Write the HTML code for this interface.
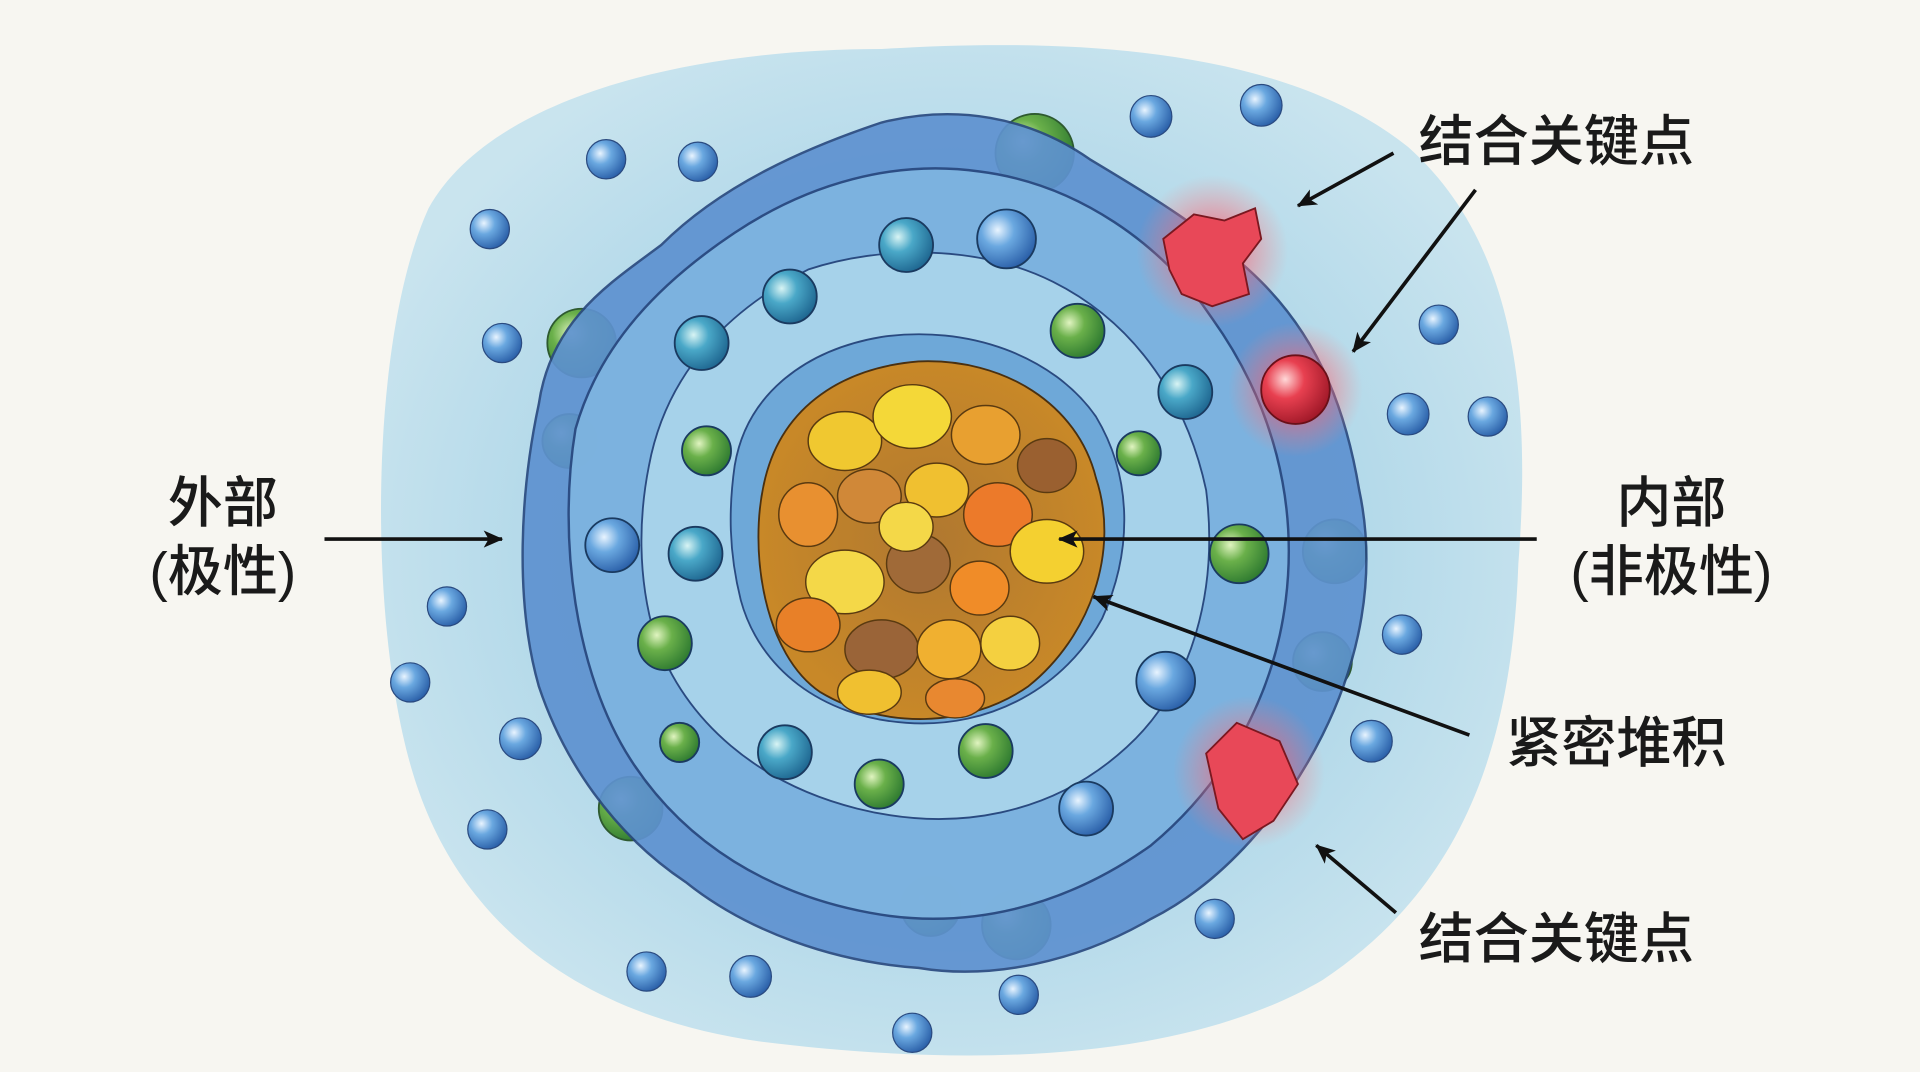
<!DOCTYPE html>
<html><head><meta charset="utf-8"><style>
html,body{margin:0;padding:0;background:#f7f6f1;}
svg{display:block}
text{font-family:"Liberation Sans","Noto Sans CJK SC",sans-serif;fill:#1a1a1a;font-weight:500;}
</style></head><body>
<svg width="1920" height="1072" viewBox="0 0 1568 875" preserveAspectRatio="none" xmlns="http://www.w3.org/2000/svg">
<defs>
<radialGradient id="bs" cx="35%" cy="35%" r="70%"><stop offset="0" stop-color="#e8f4ff"/><stop offset="0.4" stop-color="#6aa8e0"/><stop offset="1" stop-color="#2a5fa8"/></radialGradient>
<radialGradient id="ts" cx="35%" cy="35%" r="70%"><stop offset="0" stop-color="#d8f4f4"/><stop offset="0.4" stop-color="#4aa8c8"/><stop offset="1" stop-color="#1e6690"/></radialGradient>
<radialGradient id="gs" cx="35%" cy="35%" r="70%"><stop offset="0" stop-color="#e0f4c0"/><stop offset="0.4" stop-color="#6ab04a"/><stop offset="1" stop-color="#2e7a30"/></radialGradient>
<radialGradient id="rs" cx="35%" cy="35%" r="70%"><stop offset="0" stop-color="#ffd8d8"/><stop offset="0.4" stop-color="#e84050"/><stop offset="1" stop-color="#a01828"/></radialGradient>
<radialGradient id="glow"><stop offset="0.4" stop-color="#ff6070" stop-opacity="0.55"/><stop offset="1" stop-color="#ff8080" stop-opacity="0"/></radialGradient>
<radialGradient id="wash" cx="50%" cy="50%" r="55%"><stop offset="0.6" stop-color="#a8d4e8"/><stop offset="1" stop-color="#c4e2ee"/></radialGradient>
<radialGradient id="core"><stop offset="0" stop-color="#b07830"/><stop offset="1" stop-color="#c88828"/></radialGradient>
<marker id="ah" markerWidth="16" markerHeight="14" refX="15" refY="7" orient="auto" markerUnits="userSpaceOnUse"><path d="M0,0 L16,7 L0,14 L4,7 z" fill="#111"/></marker>
</defs>
<path d="M350,170 C400,80 560,40 720,40 C880,30 1050,40 1150,120 C1240,200 1250,330 1240,460 C1235,600 1200,720 1080,800 C960,870 780,870 620,850 C480,830 380,760 340,640 C300,520 300,280 350,170 Z" fill="url(#wash)" opacity="0.9"/>
<g fill="url(#gs)" stroke="#2e5a30" stroke-width="1.5">
<circle cx="475" cy="280" r="28"/><circle cx="845" cy="125" r="32"/><circle cx="515" cy="660" r="26"/><circle cx="830" cy="755" r="28"/><circle cx="1090" cy="450" r="26"/><circle cx="1080" cy="540" r="24"/><circle cx="465" cy="360" r="22"/><circle cx="760" cy="740" r="24"/>
</g>
<path d="M440,330 C450,260 500,230 540,200 C590,150 660,120 720,100 C780,85 840,95 890,130 C940,160 990,190 1030,230 C1080,280 1100,340 1110,400 C1125,470 1110,540 1080,600 C1050,660 1000,720 940,750 C880,785 810,800 750,790 C680,785 610,760 560,720 C500,680 460,620 440,560 C420,490 425,400 440,330 Z" fill="#5e92d0" stroke="#2a4a80" stroke-width="2" opacity="0.92"/>
<path d="M470,350 C490,280 540,230 600,190 C660,150 730,130 800,140 C880,150 950,200 990,260 C1040,330 1060,410 1050,490 C1040,570 1000,640 940,690 C870,740 790,760 710,745 C630,730 560,690 515,620 C470,550 455,440 470,350 Z" fill="#7eb4e0" stroke="#2a4a80" stroke-width="2" opacity="0.95"/>
<path d="M530,380 C545,300 600,250 660,220 C720,200 800,200 860,230 C930,265 970,330 985,400 C995,480 975,560 920,610 C860,665 780,680 700,660 C620,640 560,590 535,520 C520,470 522,420 530,380 Z" fill="#a6d2ea" stroke="#2a4a80" stroke-width="1.5"/>
<path d="M600,380 C610,320 660,285 720,275 C790,265 860,290 895,340 C925,390 925,450 900,505 C870,560 810,595 740,590 C670,585 620,545 605,490 C595,450 595,415 600,380 Z" fill="#6ea8d8" stroke="#2a4a80" stroke-width="1.5"/>
<path d="M625,390 C640,330 690,300 750,295 C820,292 880,330 895,390 C915,450 890,520 840,560 C790,595 720,595 670,565 C625,535 610,450 625,390 Z" fill="url(#core)" stroke="#4a3010" stroke-width="1.5"/>
<g stroke="#5a3a10" stroke-width="1.2">
<ellipse cx="690" cy="360" rx="30" ry="24" fill="#f0c830"/><ellipse cx="745" cy="340" rx="32" ry="26" fill="#f4d838"/><ellipse cx="805" cy="355" rx="28" ry="24" fill="#e8a030"/><ellipse cx="855" cy="380" rx="24" ry="22" fill="#9a6030"/>
<ellipse cx="660" cy="420" rx="24" ry="26" fill="#e89030"/><ellipse cx="710" cy="405" rx="26" ry="22" fill="#d08838"/><ellipse cx="765" cy="400" rx="26" ry="22" fill="#f0c030"/><ellipse cx="815" cy="420" rx="28" ry="26" fill="#ec7a2a"/>
<ellipse cx="855" cy="450" rx="30" ry="26" fill="#f4d030"/><ellipse cx="690" cy="475" rx="32" ry="26" fill="#f4d848"/><ellipse cx="750" cy="460" rx="26" ry="24" fill="#a06a38"/><ellipse cx="800" cy="480" rx="24" ry="22" fill="#f08c28"/>
<ellipse cx="660" cy="510" rx="26" ry="22" fill="#e88028"/><ellipse cx="720" cy="530" rx="30" ry="24" fill="#9a6438"/><ellipse cx="775" cy="530" rx="26" ry="24" fill="#f0b030"/><ellipse cx="825" cy="525" rx="24" ry="22" fill="#f4d040"/>
<ellipse cx="710" cy="565" rx="26" ry="18" fill="#f0c030"/><ellipse cx="780" cy="570" rx="24" ry="16" fill="#e88830"/><ellipse cx="740" cy="430" rx="22" ry="20" fill="#f4d848"/>
</g>
<g stroke="#1a3a60" stroke-width="1.5">
<circle cx="645" cy="242" r="22" fill="url(#ts)"/><circle cx="740" cy="200" r="22" fill="url(#ts)"/><circle cx="822" cy="195" r="24" fill="url(#bs)"/>
<circle cx="573" cy="280" r="22" fill="url(#ts)"/><circle cx="880" cy="270" r="22" fill="url(#gs)"/><circle cx="968" cy="320" r="22" fill="url(#ts)"/>
<circle cx="577" cy="368" r="20" fill="url(#gs)"/><circle cx="500" cy="445" r="22" fill="url(#bs)"/><circle cx="568" cy="452" r="22" fill="url(#ts)"/>
<circle cx="543" cy="525" r="22" fill="url(#gs)"/><circle cx="1012" cy="452" r="24" fill="url(#gs)"/><circle cx="952" cy="556" r="24" fill="url(#bs)"/>
<circle cx="641" cy="614" r="22" fill="url(#ts)"/><circle cx="718" cy="640" r="20" fill="url(#gs)"/><circle cx="805" cy="613" r="22" fill="url(#gs)"/><circle cx="887" cy="660" r="22" fill="url(#bs)"/>
<circle cx="555" cy="606" r="16" fill="url(#gs)"/><circle cx="930" cy="370" r="18" fill="url(#gs)"/>
</g>
<circle cx="990" cy="205" r="62" fill="url(#glow)"/>
<circle cx="1058" cy="318" r="55" fill="url(#glow)"/>
<circle cx="1020" cy="630" r="62" fill="url(#glow)"/>
<path d="M950,195 L975,175 L1000,180 L1025,170 L1030,195 L1015,215 L1020,240 L990,250 L965,240 L955,220 Z" fill="#e84858" stroke="#7a1820" stroke-width="1.5"/>
<circle cx="1058" cy="318" r="28" fill="url(#rs)" stroke="#6a1018" stroke-width="1.5"/>
<path d="M985,615 L1010,590 L1045,605 L1060,640 L1040,670 L1015,685 L995,660 Z" fill="#e84858" stroke="#7a1820" stroke-width="1.5"/>
<g fill="url(#bs)" stroke="#2a4a80" stroke-width="1">
<circle cx="940" cy="95" r="17"/><circle cx="1030" cy="86" r="17"/><circle cx="495" cy="130" r="16"/><circle cx="570" cy="132" r="16"/><circle cx="400" cy="187" r="16"/><circle cx="410" cy="280" r="16"/><circle cx="1175" cy="265" r="16"/><circle cx="1150" cy="338" r="17"/><circle cx="1215" cy="340" r="16"/><circle cx="365" cy="495" r="16"/><circle cx="335" cy="557" r="16"/><circle cx="1145" cy="518" r="16"/><circle cx="425" cy="603" r="17"/><circle cx="1120" cy="605" r="17"/><circle cx="398" cy="677" r="16"/><circle cx="992" cy="750" r="16"/><circle cx="528" cy="793" r="16"/><circle cx="613" cy="797" r="17"/><circle cx="832" cy="812" r="16"/><circle cx="745" cy="843" r="16"/>
</g>
<g stroke="#111" stroke-width="3" fill="none" marker-end="url(#ah)">
<line x1="1138" y1="125" x2="1060" y2="168"/>
<line x1="1205" y1="155" x2="1105" y2="287"/>
<line x1="265" y1="440" x2="410" y2="440"/>
<line x1="1255" y1="440" x2="865" y2="440"/>
<line x1="1200" y1="600" x2="893" y2="487"/>
<line x1="1140" y1="745" x2="1075" y2="690"/>
</g>
<g font-size="45">
<text x="1271" y="131" text-anchor="middle">结合关键点</text>
<text x="182" y="426" text-anchor="middle">外部</text>
<text x="182" y="482" text-anchor="middle">(极性)</text>
<text x="1365" y="426" text-anchor="middle">内部</text>
<text x="1365" y="482" text-anchor="middle">(非极性)</text>
<text x="1320" y="622" text-anchor="middle">紧密堆积</text>
<text x="1271" y="782" text-anchor="middle">结合关键点</text>
</g>
</svg>
</body></html>
